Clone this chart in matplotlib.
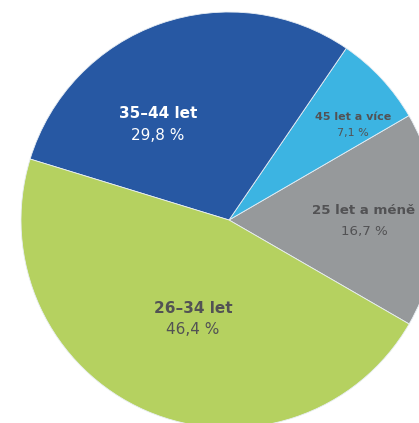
import matplotlib.pyplot as plt

# age groups, counter-clockwise from the right side
groups = ["25 let a méně", "45 let a více", "35–44 let", "26–34 let"]
shares = [16.7, 7.1, 29.8, 46.4]
share_labels = ["16,7 %", "7,1 %", "29,8 %", "46,4 %"]
colors = ["#96999b", "#3cb4e2", "#2758a3", "#b5d160"]
text_colors = ["#525254", "#525254", "#ffffff", "#525254"]

W, H = 419, 423
cx, cy, R = 229, 220, 208  # pie centre and radius in pixels


def px(x, y):
    # pixel position -> data coords (radius 1 pie)
    return (x - cx) / R, (cy - y) / R


fig = plt.figure(figsize=(W / 100, H / 100), dpi=100)
ax = fig.add_axes([0, 0, 1, 1])

ax.pie(
    shares,
    colors=colors,
    startangle=-30,
    counterclock=True,
    radius=1,
    wedgeprops=dict(edgecolor="#e8eef4", linewidth=0.6),
)

x0, y0 = px(0, H)
x1, y1 = px(W, 0)
ax.set_xlim(x0, x1)
ax.set_ylim(y0, y1)
ax.set_aspect("equal")
ax.axis("off")

# label centres (pixels), font sizes and line gap
label_pos = [(364, 210), (353, 117), (158, 114), (193, 308)]
label_size = [9.6, 8, 11, 11]
line_gap = [21, 16, 21, 21]

for g, s, tc, (lx, ly), fs, gap in zip(groups, share_labels, text_colors,
                                       label_pos, label_size, line_gap):
    ax.text(*px(lx, ly), g, ha="center", va="center", fontsize=fs,
            fontweight="bold", color=tc, family="DejaVu Sans")
    ax.text(*px(lx, ly + gap), s, ha="center", va="center", fontsize=fs,
            color=tc, family="DejaVu Sans")

fig.savefig("out.png", dpi=100)
